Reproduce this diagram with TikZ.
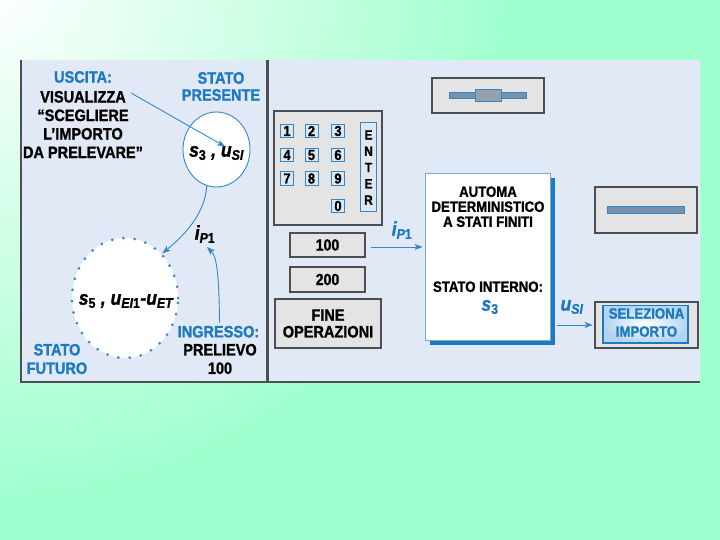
\documentclass[tikz,border=0pt]{standalone}
\usepackage{fontspec}
\setmainfont{Liberation Sans}[FakeStretch=0.88, BoldFeatures={FakeBold=1.2}, BoldItalicFeatures={FakeBold=1.2}]
\usetikzlibrary{arrows.meta,calc,shapes.geometric,shadows}
\definecolor{mint}{RGB}{160,255,206}
\definecolor{panel}{RGB}{226,233,246}
\definecolor{tblue}{RGB}{28,122,192}
\definecolor{lblue}{RGB}{52,136,200}
\definecolor{edge}{RGB}{75,78,82}
\definecolor{btn}{RGB}{228,228,228}
\definecolor{keyfill}{RGB}{222,232,242}
\definecolor{barfill}{RGB}{120,145,170}
\definecolor{bumpfill}{RGB}{150,160,172}
\definecolor{autoedge}{RGB}{120,170,215}
\definecolor{selout}{RGB}{178,212,240}
\begin{document}
\begin{tikzpicture}[x=1pt,y=-1pt,
  lab/.style={font=\bfseries\fontsize{16.5}{18.5}\selectfont, align=center, inner sep=0pt},
  blab/.style={lab, text=tblue},
  mlab/.style={font=\bfseries\itshape\fontsize{20}{20}\selectfont, inner sep=0pt},
  arr/.style={lblue, line width=0.9pt, -{Stealth[length=8pt,width=6pt,inset=2pt]}},
  graybox/.style={draw=edge, line width=1.6pt, fill=btn, inner sep=0pt,
    drop shadow={shadow xshift=1.2pt, shadow yshift=-1.4pt, fill=edge, opacity=1}},
  key/.style={draw=lblue, line width=1pt, fill=keyfill, minimum width=13pt, minimum height=13.5pt,
    inner sep=0pt, font=\bfseries\fontsize{14.5}{14.5}\selectfont},
  slotbar/.style={draw=lblue, line width=0.8pt, fill=barfill, inner sep=0pt},
]
\useasboundingbox (0,0) rectangle (720,540);
% background
\begin{scope}
\clip (0,0) rectangle (720,540);
\fill[mint] (0,0) rectangle (720,540);
\shade[inner color=white, outer color=mint] (-10,-20) circle (520);
\end{scope}
% panel
\fill[panel] (21,60) rectangle (699.5,382);
\draw[edge, line width=1.3pt] (21,60) -- (21,382) -- (699.5,382);
\draw[edge, line width=2.2pt] (267.5,60) -- (267.5,382);

% ---------- left part ----------
\node[blab] (uscita) at (83,77) {USCITA:};
\node[lab] (vis) at (83,124.5) {VISUALIZZA\\“SCEGLIERE\\L'IMPORTO\\DA PRELEVARE”};
\node[blab, font=\bfseries\fontsize{16.5}{17}\selectfont] (stpres) at (221,86.5) {STATO\\PRESENTE};

\node[ellipse, draw=lblue, line width=0.9pt, fill=white, minimum width=67pt, minimum height=75pt, inner sep=0pt] (cur) at (216.5,149.5) {};
\node[mlab] (curlab) at (216.5,153) {s\textsubscript{\upshape 3} , u\textsubscript{SI}};

\node[ellipse, fill=white, draw=lblue, line width=3pt, dash pattern=on 0pt off 11.3pt, line cap=round,
  minimum width=106pt, minimum height=120pt, inner sep=0pt] (fut) at (125,298) {};
\node[mlab] (futlab) at (126,301) {s\textsubscript{\upshape 5} , u\textsubscript{EI\upshape 1}-u\textsubscript{ET}};

\node[mlab] (ip1a) at (205,234) {i\textsubscript{P\upshape 1}};
\node[blab] (ingr) at (218.5,331.7) {INGRESSO:};
\node[lab] (prel) at (220,359) {PRELIEVO\\100};
\node[blab] (stfut) at (57,359) {STATO\\FUTURO};

\coordinate (a1s) at (131,93);
\coordinate (a1e) at (225,146.5);
\draw[arr] (a1s) -- (a1e);
\draw[arr] (cur.-105) .. controls (205,212) and (188,232) .. (fut.50);
\coordinate (a3e) at (207,247);
\draw[arr] ($(ingr.north)+(1,-3)$) .. controls (219,268) and (216,256) .. (a3e);

% ---------- right part ----------
\node[graybox, minimum width=108pt, minimum height=114pt] (pad) at (328,168) {};
\node[key] (k1) at (287,131) {1};
\node[key] (k2) at (311.5,131) {2};
\node[key] (k3) at (338,131) {3};
\node[key] (k4) at (287,155) {4};
\node[key] (k5) at (311.5,155) {5};
\node[key] (k6) at (338,155) {6};
\node[key] (k7) at (287,178.5) {7};
\node[key] (k8) at (311.5,178.5) {8};
\node[key] (k9) at (338,178.5) {9};
\node[key] (k0) at (338,206) {0};
\node[key, minimum width=15.5pt, minimum height=89pt, align=center,
  font=\bfseries\fontsize{13.5}{16.3}\selectfont] (enter) at (368.5,167.5) {E\\N\\T\\E\\R};

\node[graybox, minimum width=75pt, minimum height=24pt, font=\bfseries\fontsize{16}{16}\selectfont] (b100) at (327.5,245) {100};
\node[graybox, minimum width=75pt, minimum height=25pt, font=\bfseries\fontsize{16}{16}\selectfont] (b200) at (327.5,279.5) {200};
\node[graybox, minimum width=106pt, minimum height=49pt, align=center,
  font=\bfseries\fontsize{16.5}{16.7}\selectfont] (fine) at (328,323.5) {FINE\\OPERAZIONI};

\node[draw=autoedge, line width=0.8pt, fill=white, minimum width=125pt, minimum height=167pt, inner sep=0pt,
  drop shadow={shadow xshift=5pt, shadow yshift=-5pt, fill=tblue, opacity=1}] (automa) at (487.5,256.5) {};
\node[lab, font=\bfseries\fontsize{15}{15}\selectfont] (autotxt) at (488,206.7) {AUTOMA\\DETERMINISTICO\\A STATI FINITI};
\node[lab, font=\bfseries\fontsize{15}{15}\selectfont] (intern) at (488,286.7) {STATO INTERNO:};
\node[mlab, text=tblue] (s3) at (490,307) {s\textsubscript{\upshape 3}};

\node[graybox, minimum width=112pt, minimum height=35pt] (slot1) at (488,95.5) {};
\node[slotbar, minimum width=77pt, minimum height=6pt] (bar1) at (488,95.3) {};
\node[slotbar, fill=bumpfill, minimum width=26pt, minimum height=12.5pt] (bump1) at (488,95.3) {};

\node[graybox, minimum width=102pt, minimum height=46pt] (slot2) at (646,210) {};
\node[slotbar, minimum width=77pt, minimum height=6.5pt] (bar2) at (646.3,210) {};

\node[graybox, minimum width=103pt, minimum height=46pt] (selz) at (646.5,325) {};
\node[draw=tblue, line width=1.5pt, inner color=white, outer color=selout, minimum width=85pt,
  minimum height=37.5pt, inner sep=0pt] (selin) at (645.5,324) {};
\node[blab, font=\bfseries\fontsize{15}{18}\selectfont] (seltxt) at (646.5,322.5) {SELEZIONA\\IMPORTO};

\draw[arr] ($(b100.east)+(5,2)$) -- ($(automa.west |- b100.east)+(-2,2)$);
\node[mlab, text=tblue] (ip1b) at (402,230) {i\textsubscript{P\upshape 1}};
\draw[arr] ($(automa.east |- selz.west)+(7,0)$) -- ($(selz.west)+(-1.5,0)$);
\node[mlab, text=tblue] (usi) at (572,307) {u\textsubscript{SI}};
\end{tikzpicture}
\end{document}
